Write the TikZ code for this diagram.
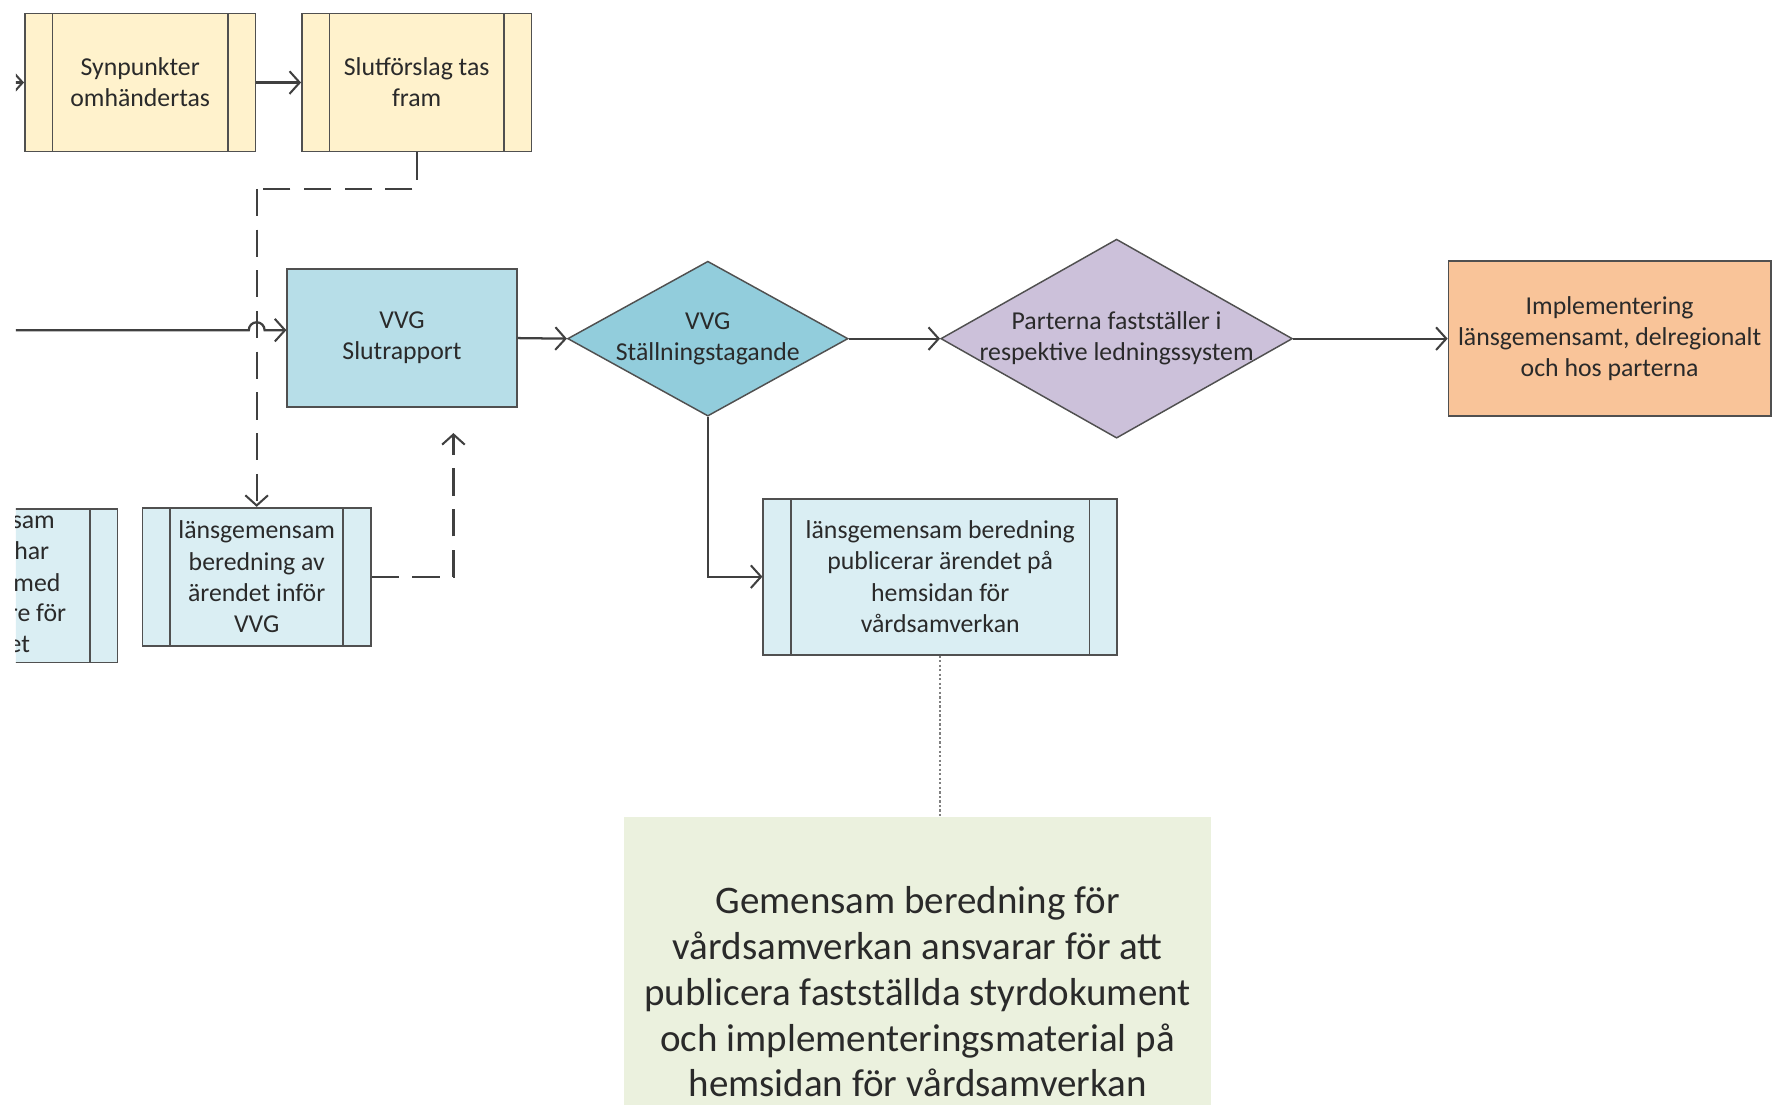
\documentclass[tikz,border=0pt]{standalone}
\usepackage{fontspec}
\setmainfont{Carlito}
\usetikzlibrary{arrows.meta,shapes.geometric}
\definecolor{yellowfill}{HTML}{FFF2CC}
\definecolor{rappfill}{HTML}{B7DEE8}
\definecolor{diaAfill}{HTML}{92CDDC}
\definecolor{diaBfill}{HTML}{CCC1DA}
\definecolor{implfill}{HTML}{F9C499}
\definecolor{procfill}{HTML}{DAEEF3}
\definecolor{notefill}{HTML}{EBF1DE}
\definecolor{bordercol}{HTML}{505050}
\definecolor{linecol}{HTML}{404040}
\definecolor{textcol}{HTML}{2A2A2A}
\begin{document}
\begin{tikzpicture}[x=1pt,y=-1pt,
  smalltext/.style={font=\fontsize{22.8}{27.5}\selectfont, text=textcol, align=center},
  bigtext/.style={font=\fontsize{34.5}{40.5}\selectfont, text=textcol, align=center},
  plainbox/.style={rectangle, draw=bordercol, line width=1.5pt, inner sep=0pt, smalltext},
  procbox/.style={plainbox,
    path picture={\draw[bordercol, line width=1.5pt]
      ([xshift=24.5pt]path picture bounding box.north west) -- ([xshift=24.5pt]path picture bounding box.south west)
      ([xshift=-24.5pt]path picture bounding box.north east) -- ([xshift=-24.5pt]path picture bounding box.south east);}},
  dia/.style={diamond, draw=bordercol, line width=1.3pt, inner sep=0pt},
  conn/.style={draw=linecol, line width=2pt},
  arr/.style={-{Straight Barb[length=9pt,width=20pt,line width=1.8pt]}},
  dashline/.style={conn, dash pattern=on 24pt off 12pt},
  dotline/.style={draw=gray, line width=1.8pt, dash pattern=on 2pt off 2pt}
]
\useasboundingbox (0,0) rectangle (1568,977);
\fill[white] (0,0) rectangle (1568,977);
\clip (14,0) rectangle (1568,977);

% top row
\node[procbox, fill=yellowfill, minimum width=204pt, minimum height=122pt] (syn) at (124,73) {Synpunkter\\omhändertas};
\node[procbox, fill=yellowfill, minimum width=203pt, minimum height=122pt] (slut) at (368.5,73) {Slutförslag tas\\fram};
\coordinate (inleft) at (0,73);

% main row
\node[plainbox, fill=rappfill, minimum width=203pt, minimum height=122pt] (rapp) at (355.5,299) {VVG\\Slutrapport};
\node[dia, fill=diaAfill, minimum width=248pt, minimum height=137pt] (d1) at (626,299.5) {};
\node[smalltext] (d1t) at (626,299.5) {VVG\\Ställningstagande};
\node[dia, fill=diaBfill, minimum width=311pt, minimum height=176pt] (d2) at (987.5,299.5) {};
\node[smalltext] (d2t) at (987.5,299.5) {Parterna fastställer i\\respektive ledningssystem};
\node[plainbox, fill=implfill, minimum width=285pt, minimum height=137pt] (impl) at (1423.5,299.5) {Implementering\\länsgemensamt, delregionalt\\och hos parterna};

% lower row
\node[procbox, fill=procfill, minimum width=203pt, minimum height=136pt] (part) at (2.5,518) {};
\node[smalltext, anchor=base east] (p1) at (52,467) {sam};
\node[smalltext, anchor=base east] (p2) at (47,495) {har};
\node[smalltext, anchor=base east] (p3) at (57,523) {med};
\node[smalltext, anchor=base east] (p4) at (62,550) {re för};
\node[smalltext, anchor=base east] (p5) at (30,577) {et};

\node[procbox, fill=procfill, minimum width=202pt, minimum height=122pt] (lans) at (227,510) {länsgemensam\\beredning av\\ärendet inför\\VVG};
\node[procbox, fill=procfill, minimum width=313pt, minimum height=138pt] (pub) at (831.5,510) {länsgemensam beredning\\publicerar ärendet på\\hemsidan för\\vårdsamverkan};

\node[rectangle, fill=notefill, inner sep=0pt, minimum width=519pt, minimum height=310pt, anchor=north, bigtext] (note) at (811.5,722) {Gemensam beredning för\\vårdsamverkan ansvarar för att\\publicera fastställda styrdokument\\och implementeringsmaterial på\\hemsidan för vårdsamverkan};

% connectors
\draw[conn, arr] (inleft) -- (syn.west);
\draw[conn, arr] (syn.east) -- (slut.west);

\coordinate (c1) at (227,167);
\draw[dashline] (slut.south) |- (c1);
\draw[dashline, arr] (c1) -- (lans.north);

\coordinate (mainleft) at (0,292);
\coordinate (hopA) at (220,292);
\draw[conn, arr] (mainleft) -- (hopA) arc (180:0:7pt) -- ([yshift=7pt]rapp.west);

\draw[conn, arr] (rapp.east) -- (d1.west);
\draw[conn, arr] (d1.east) -- (d2.west);
\draw[conn, arr] (d2.east) -- (impl.west);
\draw[conn, arr] (d1.south) |- (pub.west);

\coordinate (c2) at (401,383);
\draw[dashline, arr] (lans.east) -| (c2);

\draw[dotline] (pub.south) -- (pub.south |- note.north);
\end{tikzpicture}
\end{document}
